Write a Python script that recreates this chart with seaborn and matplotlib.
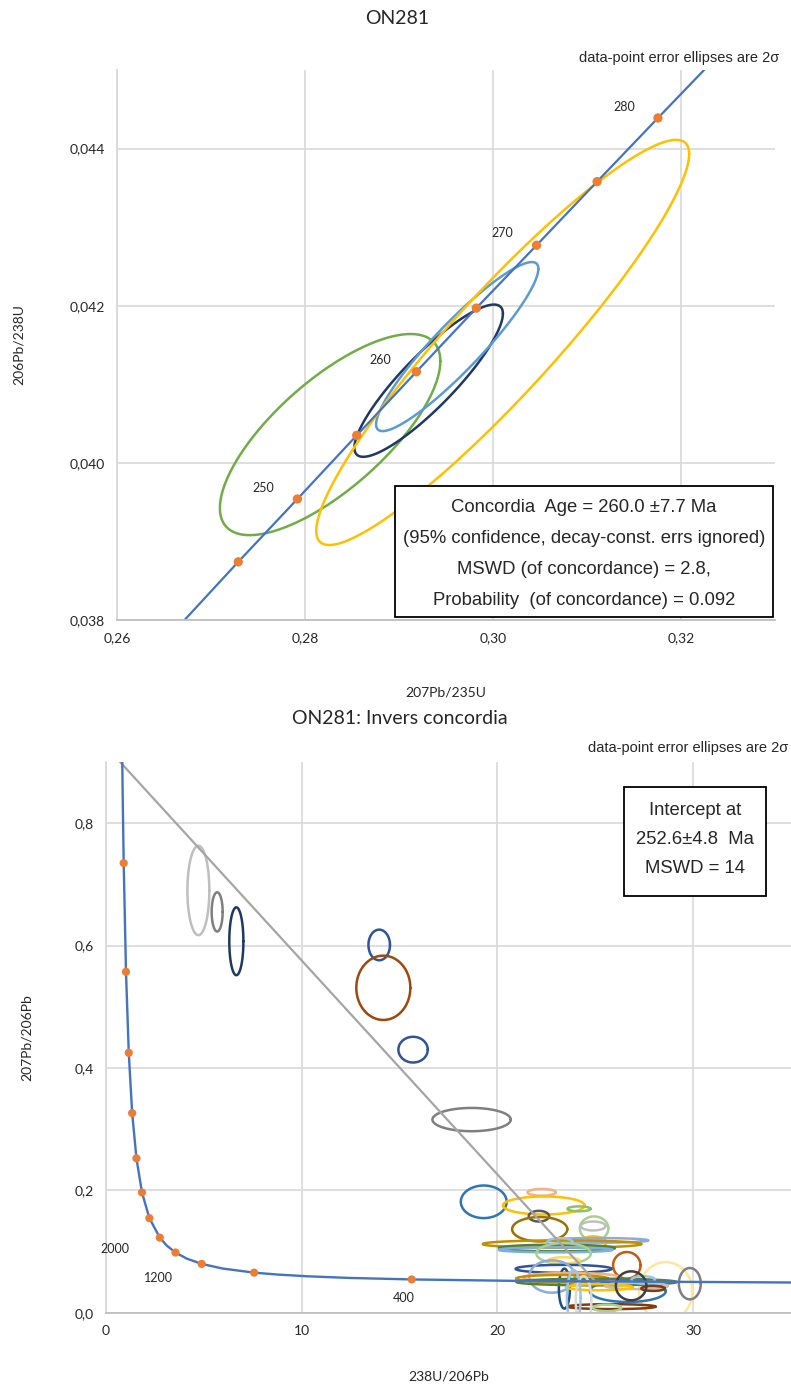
import numpy as np
import pandas as pd
import matplotlib
matplotlib.use("Agg")
import matplotlib.pyplot as plt
from matplotlib.patches import Rectangle
import seaborn as sns

# ---------------- top panel: Wetherill concordia ----------------
conc_age = [240, 245, 250, 255, 260, 265, 270, 275, 280, 285, 290]
conc_x = [0.26664, 0.27289, 0.27918, 0.28549, 0.29184, 0.29821, 0.30462, 0.31106, 0.31753, 0.32404, 0.33057]
conc_y = [0.03793, 0.03874, 0.03954, 0.04035, 0.04116, 0.04197, 0.04277, 0.04358, 0.04439, 0.04520, 0.04601]

dot_x = [0.27289, 0.27918, 0.28549, 0.29184, 0.29821, 0.30462, 0.31106, 0.31753]
dot_y = [0.03874, 0.03954, 0.04035, 0.04116, 0.04197, 0.04277, 0.04358, 0.04439]

age_labels = ["250", "260", "270", "280"]
age_label_x = [0.2756, 0.2880, 0.3010, 0.3140]
age_label_y = [0.03968, 0.04131, 0.04293, 0.04453]

# ellipses: centre, half-width, half-height, error correlation, colour
top_cx = [0.28266, 0.29314, 0.29618, 0.30102]
top_cy = [0.04036, 0.041046, 0.04148, 0.041533]
top_a = [0.011725, 0.0079, 0.00863, 0.019835]
top_b = [0.00128, 0.000969, 0.001076, 0.002579]
top_rho = [0.73, 0.88, 0.92, 0.93]
top_col = ["#70ad47", "#203864", "#5b9bd5", "#ffc000"]

top_xticks = [0.26, 0.28, 0.30, 0.32]
top_xticklabels = ["0,26", "0,28", "0,30", "0,32"]
top_yticks = [0.038, 0.040, 0.042, 0.044]
top_yticklabels = ["0,038", "0,040", "0,042", "0,044"]

top_box_lines = ["Concordia  Age = 260.0 \u00b17.7 Ma",
                 "(95% confidence, decay-const. errs ignored)",
                 "MSWD (of concordance) = 2.8,",
                 "Probability  (of concordance) = 0.092"]

# ---------------- bottom panel: Tera-Wasserburg ----------------
tw_x = [0.8292, 0.853, 0.9045, 1.0216, 1.163, 1.337, 1.5557, 1.838, 2.217, 2.749, 3.1043,
        3.55, 4.1225, 4.888, 5.959, 7.568, 8.718, 10.252, 12.40, 15.62, 20.992, 35.0]
tw_y = [0.9070, 0.845, 0.7347, 0.5572, 0.4249, 0.3264, 0.2525, 0.1968, 0.1548, 0.1230, 0.1100,
        0.0987, 0.0888, 0.0801, 0.0725, 0.0658, 0.0628, 0.0599, 0.0572, 0.0547, 0.05234, 0.0497]

tw_dot_x = [15.62, 7.568, 4.888, 3.55, 2.749, 2.217, 1.838, 1.5557, 1.337, 1.163, 1.0216, 0.9045]
tw_dot_y = [0.0547, 0.0658, 0.0801, 0.0987, 0.1230, 0.1548, 0.1968, 0.2525, 0.3264, 0.4249, 0.5572, 0.7347]

tw_labels = ["2000", "1200", "400"]
tw_label_x = [0.46, 2.7, 15.2]
tw_label_y = [0.104, 0.0575, 0.0237]

discordia_x = [0.0, 25.0]
discordia_y = [0.925, 0.0514]

bot_cx = [4.72, 5.68, 6.66, 13.96, 14.17, 15.69, 18.68, 19.30, 22.26, 22.37, 24.17, 22.12,
          22.16, 24.94, 24.89, 24.90, 25.15, 23.30, 23.20, 23.04, 22.97, 23.38, 23.40, 23.38,
          22.79, 26.61, 28.60, 29.83, 23.42, 25.83, 25.60, 26.66, 23.78, 23.30, 25.06, 27.10,
          25.20, 27.45, 27.95, 24.40, 23.90, 26.83]
bot_cy = [0.690, 0.655, 0.607, 0.601, 0.531, 0.430, 0.3158, 0.1815, 0.197, 0.1755, 0.170, 0.158,
          0.1367, 0.138, 0.142, 0.115, 0.1185, 0.1125, 0.116, 0.106, 0.103, 0.097, 0.086, 0.072,
          0.0595, 0.0777, 0.035, 0.0478, 0.0397, 0.0103, 0.0082, 0.0356, 0.058, 0.056, 0.0505, 0.044,
          0.042, 0.054, 0.040, 0.020, 0.025, 0.0443]
bot_a = [0.56, 0.28, 0.36, 0.55, 1.38, 0.75, 2.0, 1.17, 0.72, 2.09, 0.59, 0.52,
         1.41, 0.73, 0.63, 0.66, 2.55, 4.05, 0.64, 2.96, 2.90, 1.39, 0.79, 2.45,
         1.17, 0.70, 1.36, 0.56, 0.28, 2.25, 0.72, 1.94, 2.47, 2.35, 4.09, 1.60,
         1.70, 0.60, 0.60, 0.40, 0.35, 0.78]
bot_b = [0.073, 0.032, 0.0554, 0.025, 0.0525, 0.021, 0.019, 0.0266, 0.0055, 0.0147, 0.004, 0.0087,
         0.0199, 0.0196, 0.0073, 0.010, 0.0038, 0.006, 0.006, 0.0054, 0.004, 0.017, 0.005, 0.0065,
         0.0264, 0.0217, 0.048, 0.0256, 0.0326, 0.004, 0.0054, 0.0177, 0.0073, 0.006, 0.0054, 0.005,
         0.005, 0.006, 0.004, 0.040, 0.045, 0.0236]
bot_col = ["#bfbfbf", "#7f7f7f", "#203864", "#2f5597", "#9e480e", "#2f5597", "#7f7f7f", "#2e75b6",
           "#f4b183", "#ffc000", "#8cc168", "#595959", "#997300", "#a9d18e", "#bfbfbf", "#ffc000",
           "#8faadc", "#bf9000", "#9dc3e6", "#548235", "#7cafdd", "#a9d18e", "#ffd966", "#2f5597",
           "#8faadc", "#c55a11", "#ffe699", "#7f7f7f", "#1f4e79", "#843c0c", "#a9d18e", "#2e75b6",
           "#f4b183", "#bf9000", "#548235", "#bfbfbf", "#ffc000", "#9dc3e6", "#843c0c", "#d9d9d9",
           "#9dc3e6", "#404040"]

bot_xticks = [0, 10, 20, 30]
bot_xticklabels = ["0", "10", "20", "30"]
bot_yticks = [0.0, 0.2, 0.4, 0.6, 0.8]
bot_yticklabels = ["0,0", "0,2", "0,4", "0,6", "0,8"]

bot_box_lines = ["Intercept at", "252.6\u00b14.8  Ma", "MSWD = 14"]


def ellipse_outline(cx, cy, a, b, rho=0.0, n=120):
    th = np.linspace(0, 2 * np.pi, n)
    x = cx + a * np.cos(th)
    y = cy + b * (rho * np.cos(th) + np.sqrt(1 - rho ** 2) * np.sin(th))
    return pd.DataFrame({"x": x, "y": y})


sns.set_theme(style="white")
plt.rcParams["font.family"] = ["Lato", "DejaVu Sans"]
boxfont = ["Liberation Sans", "DejaVu Sans"]

fig = plt.figure(figsize=(7.91, 13.87), dpi=100)
ax1 = fig.add_axes([0.148, 0.553, 0.832, 0.3965])
ax2 = fig.add_axes([0.134, 0.0534, 0.866, 0.3973])

for ax in (ax1, ax2):
    ax.grid(True, color="#d9d9d9", lw=1.2)
    ax.set_axisbelow(True)
    ax.spines["top"].set_visible(False)
    ax.spines["right"].set_visible(False)
    ax.spines["left"].set_color("#d9d9d9")
    ax.spines["bottom"].set_color("#bfbfbf")
    ax.spines["left"].set_linewidth(1.3)
    ax.spines["bottom"].set_linewidth(1.3)
    ax.tick_params(length=0, labelsize=10, labelcolor="#262626", pad=9)

# --- top plot
for i in range(len(top_cx)):
    d = ellipse_outline(top_cx[i], top_cy[i], top_a[i], top_b[i], top_rho[i])
    sns.lineplot(data=d, x="x", y="y", sort=False, estimator=None, color=top_col[i], lw=1.8, ax=ax1)

sns.lineplot(x=conc_x, y=conc_y, sort=False, estimator=None, color="#4472c4", lw=1.6, ax=ax1)
sns.scatterplot(x=dot_x, y=dot_y, color="#ed7d31", s=45, edgecolor="none", zorder=5, ax=ax1)
for lab, lx, ly in zip(age_labels, age_label_x, age_label_y):
    ax1.text(lx, ly, lab, ha="center", va="center", fontsize=9, color="#262626")

ax1.set_xlim(0.26, 0.33)
ax1.set_ylim(0.038, 0.045)
ax1.set_xticks(top_xticks)
ax1.set_xticklabels(top_xticklabels)
ax1.set_yticks(top_yticks)
ax1.set_yticklabels(top_yticklabels)
ax1.set_xlabel("207Pb/235U", fontsize=10, labelpad=30)
ax1.set_ylabel("206Pb/238U", fontsize=10, labelpad=32)

ax1.add_patch(Rectangle((0.4227, 0.006), 0.574, 0.2376, transform=ax1.transAxes,
                        facecolor="white", edgecolor="black", lw=1.3, zorder=6))
for k, line in enumerate(top_box_lines):
    ax1.text(0.7095, 0.205 - k * 0.0565, line, transform=ax1.transAxes, ha="center", va="center",
             fontsize=13.3, family=boxfont, zorder=7)

fig.text(0.502, 0.987, "ON281", ha="center", va="center", fontsize=14)
fig.text(0.985, 0.958, "data-point error ellipses are 2\u03c3", ha="right", va="center",
         fontsize=10.5, family=boxfont)

# --- bottom plot
for i in range(len(bot_cx)):
    d = ellipse_outline(bot_cx[i], bot_cy[i], bot_a[i], bot_b[i])
    sns.lineplot(data=d, x="x", y="y", sort=False, estimator=None, color=bot_col[i], lw=1.8, ax=ax2)

sns.lineplot(x=discordia_x, y=discordia_y, sort=False, estimator=None, color="#a5a5a5", lw=1.6, ax=ax2)
sns.lineplot(x=tw_x, y=tw_y, sort=False, estimator=None, color="#4472c4", lw=1.7, ax=ax2)
sns.scatterplot(x=tw_dot_x, y=tw_dot_y, color="#ed7d31", s=35, edgecolor="none", zorder=5, ax=ax2)
for lab, lx, ly in zip(tw_labels, tw_label_x, tw_label_y):
    ax2.text(lx, ly, lab, ha="center", va="center", fontsize=9, color="#262626")

ax2.set_xlim(0, 35)
ax2.set_ylim(0, 0.9)
ax2.set_xticks(bot_xticks)
ax2.set_xticklabels(bot_xticklabels)
ax2.set_yticks(bot_yticks)
ax2.set_yticklabels(bot_yticklabels)
ax2.set_xlabel("238U/206Pb", fontsize=10, labelpad=24)
ax2.set_ylabel("207Pb/206Pb", fontsize=10, labelpad=30)

ax2.add_patch(Rectangle((0.756, 0.757), 0.2075, 0.198, transform=ax2.transAxes,
                        facecolor="white", edgecolor="black", lw=1.3, zorder=6))
for k, line in enumerate(bot_box_lines):
    ax2.text(0.8598, 0.912 - k * 0.0525, line, transform=ax2.transAxes, ha="center", va="center",
             fontsize=13.3, family=boxfont, zorder=7)

fig.text(0.506, 0.482, "ON281: Invers concordia", ha="center", va="center", fontsize=14)
fig.text(0.996, 0.461, "data-point error ellipses are 2\u03c3", ha="right", va="center",
         fontsize=10.5, family=boxfont)

fig.savefig("out.png", dpi=100)
